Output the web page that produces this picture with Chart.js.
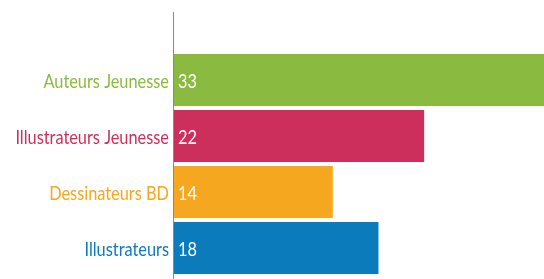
<!DOCTYPE html>
<html>
<head>
<meta charset="utf-8">
<script src="https://cdn.jsdelivr.net/npm/chart.js@4/dist/chart.umd.min.js"></script>
<style>
  html, body { margin: 0; padding: 0; background: #fff; overflow: hidden; }
  #wrap { width: 544px; height: 279px; position: relative; }
</style>
</head>
<body>
<div id="wrap"><canvas id="chart"></canvas></div>
<script>
// ---------- Data ----------
const categories = ["Auteurs Jeunesse", "Illustrateurs Jeunesse", "Dessinateurs BD", "Illustrateurs"];
const values = [33, 22, 14, 18];
const colors = ["#8abb40", "#cd2f5c", "#f5a81f", "#0c7bbb"];

const FONT = "Lato, 'Open Sans', sans-serif";
const SQUEEZE = 0.86; // the original uses a narrow font

// axis line at zero, from near the top to the bottom edge
const axisLine = {
  id: "axisLine",
  afterDatasetsDraw(chart) {
    const ctx = chart.ctx;
    const x = Math.round(chart.scales.x.getPixelForValue(0)) + 0.5;
    ctx.save();
    ctx.strokeStyle = "#8a8a8a";
    ctx.lineWidth = 1;
    ctx.beginPath();
    ctx.moveTo(x, 12);
    ctx.lineTo(x, chart.height);
    ctx.stroke();
    ctx.restore();
  },
};

// narrow category labels + white values inside the bars
const labels = {
  id: "labels",
  afterDatasetsDraw(chart) {
    const ctx = chart.ctx;
    const yScale = chart.scales.y;
    const meta = chart.getDatasetMeta(0);
    ctx.save();
    ctx.font = "19px " + FONT;
    ctx.textBaseline = "middle";
    chart.data.labels.forEach((lab, i) => {
      const y = yScale.getPixelForTick(i) + 2;
      ctx.save();
      ctx.translate(yScale.right - 4, y);
      ctx.scale(SQUEEZE, 1);
      ctx.textAlign = "right";
      ctx.fillStyle = colors[i];
      ctx.fillText(lab, 0, 0);
      ctx.restore();

      const bar = meta.data[i];
      ctx.save();
      ctx.translate(bar.base + 5, bar.y + 2);
      ctx.scale(SQUEEZE, 1);
      ctx.textAlign = "left";
      ctx.fillStyle = "#fff";
      ctx.fillText(String(values[i]), 0, 0);
      ctx.restore();
    });
    ctx.restore();
  },
};

new Chart(document.getElementById("chart"), {
  type: "bar",
  data: {
    labels: categories,
    datasets: [{
      data: values,
      backgroundColor: colors,
      borderWidth: 0,
      categoryPercentage: 1,
      barPercentage: 0.93,
    }],
  },
  options: {
    indexAxis: "y",
    responsive: true,
    maintainAspectRatio: false,
    animation: false,
    layout: { padding: { top: 52, bottom: 3, left: 0, right: 0 } },
    plugins: { legend: { display: false }, tooltip: { enabled: false } },
    scales: {
      x: { display: false, min: 0, max: 32.5 },
      y: {
        grid: { display: false, drawTicks: false },
        border: { display: false },
        afterFit: (scale) => {
          scale.width = 173;
          scale.paddingTop = 0;
          scale.paddingBottom = 0;
        },
        ticks: {
          padding: 5,
          color: "rgba(0,0,0,0)",
          font: { family: FONT, size: 19 },
        },
      },
    },
  },
  plugins: [axisLine, labels],
});
</script>
</body>
</html>
